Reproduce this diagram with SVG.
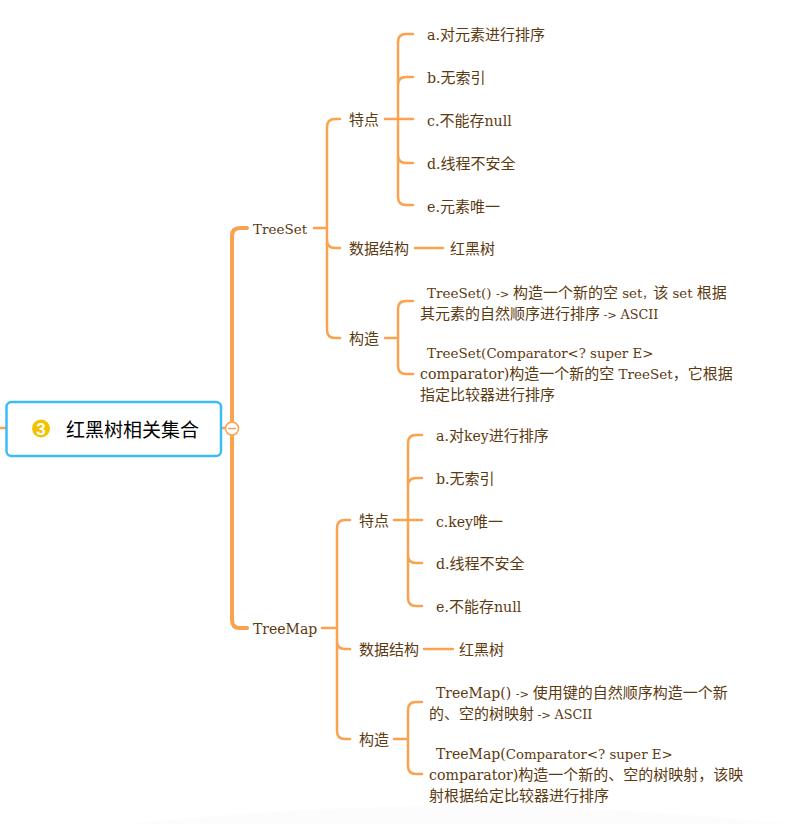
<svg xmlns="http://www.w3.org/2000/svg" width="787" height="824" viewBox="0 0 787 824">
<style>
text{font-family:"Noto Sans CJK SC","DejaVu Serif",serif;font-size:15px;fill:#5c3a10}
.l{font-family:"DejaVu Serif",serif;font-size:13.5px}
.m{font-family:"DejaVu Serif",serif;font-size:14px}
.s{font-family:"DejaVu Serif",serif;font-size:14.2px}
.r{font-family:"DejaVu Serif",serif;font-size:13.3px}
.a{font-family:"DejaVu Serif",serif;font-size:11.4px}
.k{font-family:"DejaVu Serif",serif;font-size:12.8px}
.c{fill:none;stroke:#fba24f;stroke-width:2.5;stroke-linecap:round}
.t{stroke-width:4}
</style>
<rect width="787" height="824" fill="#fff"/>
<path d="M130 824Q300 806 460 806T787 824Z" fill="#fcfcfc"/>
<g id="connectors">
<path class="c" d="M0 428H9M219 428H232"/>
<path class="c t" d="M247 228H240Q232 228 232 236V620Q232 628 240 628H247"/>
<path class="c" d="M314 228H327M340 119H335Q327 119 327 127V330Q327 338 335 338H340M327 240Q327 248 335 248H340"/>
<path class="c" d="M385 119H398M413 34H406Q398 34 398 42V197Q398 205 406 205H413M398 85Q398 77 406 77H413M398 119H413M398 155Q398 163 406 163H413"/>
<path class="c" d="M415 248H443"/>
<path class="c" d="M385 338H398M413 301H406Q398 301 398 309V366Q398 374 406 374H413"/>
<path class="c" d="M322 628H337M350 520H345Q337 520 337 528V731Q337 739 345 739H350M337 641Q337 649 345 649H350"/>
<path class="c" d="M394 520H408M422 435H416Q408 435 408 443V598Q408 606 416 606H422M408 486Q408 478 416 478H422M408 520H422M408 555Q408 563 416 563H422"/>
<path class="c" d="M424 649H453"/>
<path class="c" d="M394 739H408M422 702H416Q408 702 408 710V766Q408 774 416 774H422"/>
<circle cx="232" cy="428.500" r="6.500" fill="#fff" stroke="#fba24f" stroke-width="1.500"/>
<path d="M228 428.500H236" stroke="#fba24f" stroke-width="1.500"/>
</g>
<g id="root">
<rect x="6.500" y="402" width="214.500" height="54" rx="5" fill="#fff" stroke="#3bbcf7" stroke-width="2.500"/>
<circle cx="41" cy="428.500" r="9" fill="#f2c200"/>
<text x="41" y="434.500" text-anchor="middle" style="font-family:'Liberation Sans',sans-serif;font-size:17px;font-weight:700;fill:#fff">3</text>
<text x="66" y="437" style="font-size:19px;fill:#000">红黑树相关集合</text>
</g>
<g id="treeset"><text x="253" y="233.500"><tspan class="l">TreeSet</tspan></text></g>
<g id="ts-tedian"><text x="349" y="125">特点</text></g>
<g id="ts-a"><text x="427" y="40"><tspan class="s">a.</tspan>对元素进行排序</text></g>
<g id="ts-b"><text x="427" y="83"><tspan class="s">b.</tspan>无索引</text></g>
<g id="ts-c"><text x="427" y="126"><tspan class="s">c.</tspan>不能存<tspan class="s">null</tspan></text></g>
<g id="ts-d"><text x="427" y="169"><tspan class="s">d.</tspan>线程不安全</text></g>
<g id="ts-e"><text x="427" y="212"><tspan class="s">e.</tspan>元素唯一</text></g>
<g id="ts-struct"><text x="349" y="254">数据结构</text></g>
<g id="ts-rb"><text x="450" y="254">红黑树</text></g>
<g id="ts-ctor"><text x="349" y="344">构造</text></g>
<g id="ts-ctor1">
<text x="427" y="298"><tspan class="l">TreeSet() </tspan><tspan class="a">-&gt; </tspan>构造一个新的空<tspan class="r"> set</tspan><tspan style="font-size:11px">，</tspan>该<tspan class="r"> set </tspan>根据</text>
<text x="420" y="319">其元素的自然顺序进行排序 <tspan class="a">-&gt; </tspan><tspan class="k">ASCII</tspan></text>
</g>
<g id="ts-ctor2">
<text x="427" y="358"><tspan class="l">TreeSet(</tspan><tspan class="r">Comparator&lt;? super E&gt;</tspan></text>
<text x="420" y="379"><tspan class="s">comparator)</tspan>构造一个新的空<tspan class="l"> TreeSet</tspan>，它根据</text>
<text x="420" y="400">指定比较器进行排序</text>
</g>
<g id="treemap"><text x="253" y="633.500"><tspan class="m">TreeMap</tspan></text></g>
<g id="tm-tedian"><text x="359" y="526">特点</text></g>
<g id="tm-a"><text x="436" y="441"><tspan class="s">a.</tspan>对<tspan class="m">key</tspan>进行排序</text></g>
<g id="tm-b"><text x="436" y="484"><tspan class="s">b.</tspan>无索引</text></g>
<g id="tm-c"><text x="436" y="527"><tspan class="m">c.key</tspan>唯一</text></g>
<g id="tm-d"><text x="436" y="569"><tspan class="s">d.</tspan>线程不安全</text></g>
<g id="tm-e"><text x="436" y="612"><tspan class="s">e.</tspan>不能存<tspan class="s">null</tspan></text></g>
<g id="tm-struct"><text x="359" y="655">数据结构</text></g>
<g id="tm-rb"><text x="459" y="655">红黑树</text></g>
<g id="tm-ctor"><text x="359" y="745">构造</text></g>
<g id="tm-ctor1">
<text x="436" y="698"><tspan class="m">TreeMap() </tspan><tspan class="a">-&gt; </tspan>使用键的自然顺序构造一个新</text>
<text x="429" y="719">的、空的树映射 <tspan class="a">-&gt; </tspan><tspan class="k">ASCII</tspan></text>
</g>
<g id="tm-ctor2">
<text x="436" y="759"><tspan class="m">TreeMap(</tspan><tspan class="r">Comparator&lt;? super E&gt;</tspan></text>
<text x="429" y="780"><tspan class="s">comparator)</tspan>构造一个新的、空的树映射，该映</text>
<text x="429" y="801">射根据给定比较器进行排序</text>
</g>
</svg>
